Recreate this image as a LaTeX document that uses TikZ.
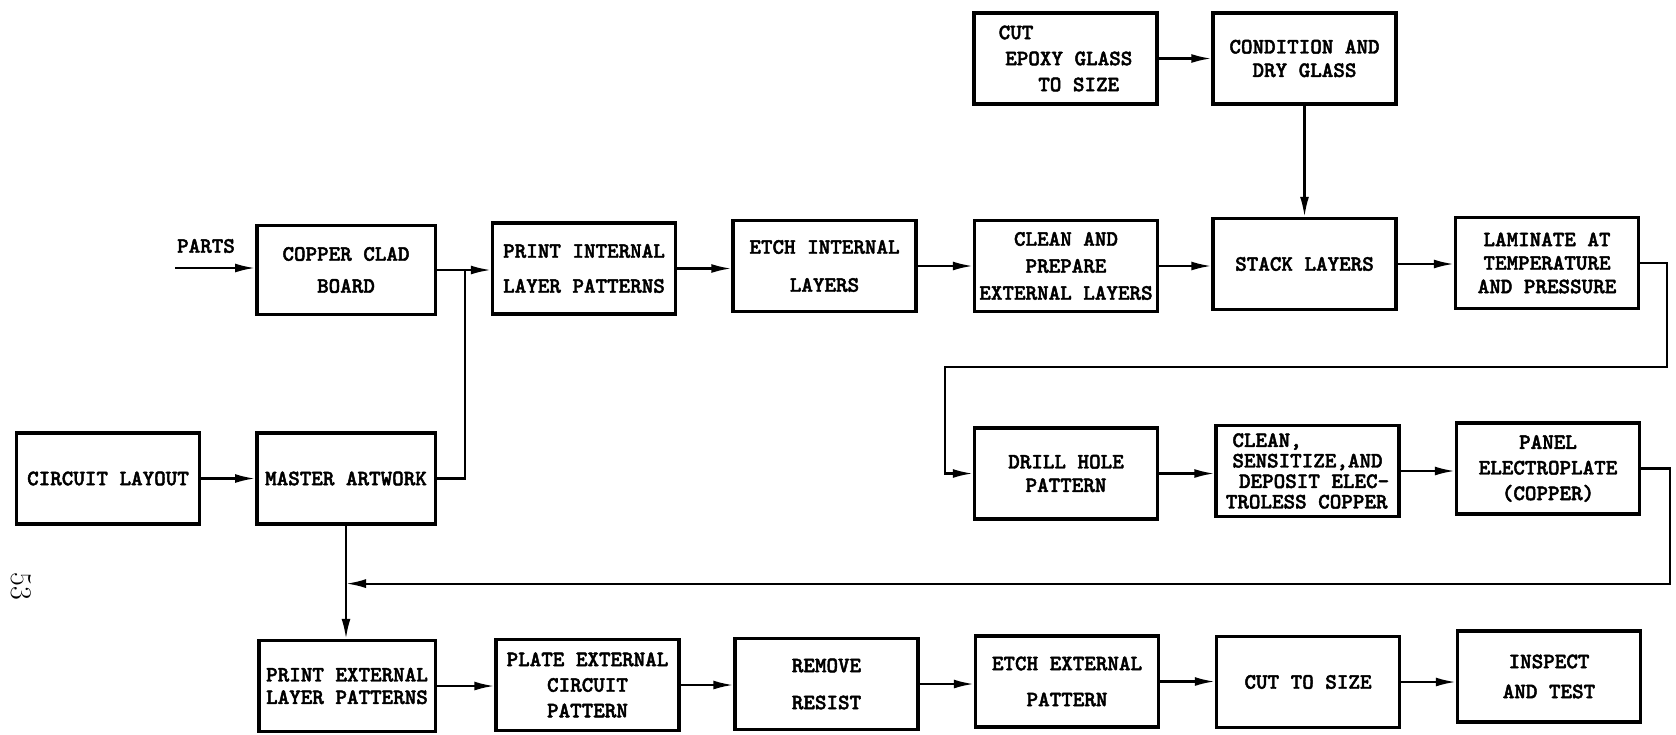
\documentclass[tikz,border=0pt]{standalone}
\usepackage{fontspec}
\newfontfamily\tw[Extension=.otf, FakeBold=2]{lmmonolt10-bold}
\usetikzlibrary{arrows.meta}
\tikzset{
  box/.style={draw, line width=3.5pt, minimum width=183pt, minimum height=91pt,
    inner sep=2pt, align=center, font=\tw\fontsize{22}{#1}\selectfont},
  box/.default=24,
  arr/.style={line width=2.2pt, -{Latex[length=20pt,width=9pt]}},
  ln/.style={line width=2.2pt},
  lbl/.style={font=\tw\fontsize{22}{24}\selectfont, inner sep=0pt},
}
\begin{document}
\begin{tikzpicture}[x=1pt,y=-1pt]
\useasboundingbox (0,0) rectangle (1676,734);
\fill[white] (0,0) rectangle (1676,734);

% row 1
\node[box=26, align=left] (cut) at (1065.5,58.5) {CUT\\\hspace*{0.3em}EPOXY GLASS\\\hspace*{1.8em}TO SIZE};
\node[box=23.5] (cond) at (1304.5,58.5) {CONDITION AND\\DRY GLASS};

% row 2
\node[box=32, minimum width=178.5pt, minimum height=89pt] (copper) at (346,270) {COPPER CLAD\\BOARD};
\node[box=35] (printint) at (584,268.5) {PRINT INTERNAL\\LAYER PATTERNS};
\node[box=38] (etchint) at (824.5,266) {ETCH INTERNAL\\LAYERS};
\node[box=27] (cleanprep) at (1066,266) {CLEAN AND\\PREPARE\\EXTERNAL LAYERS};
\node[box] (stack) at (1304.5,264) {STACK LAYERS};
\node[box=23.5] (laminate) at (1547,263) {LAMINATE AT\\TEMPERATURE\\AND PRESSURE};

% row 3
\node[box] (circuit) at (108,478.5) {CIRCUIT LAYOUT};
\node[box, minimum width=178.5pt] (master) at (346,478.5) {MASTER ARTWORK};
\node[box=23.5] (drill) at (1066,473.5) {DRILL HOLE\\PATTERN};
\node[box=20.5, align=left] (cleansens) at (1307.5,471) {\hspace*{0.3em}CLEAN,\\\hspace*{0.3em}SENSITIZE,AND\\\hspace*{0.6em}DEPOSIT ELEC-\\TROLESS COPPER};
\node[box=25.6] (panel) at (1548,468.5) {PANEL\\ELECTROPLATE\\(COPPER)};

% row 4
\node[box=22.5, minimum width=176.5pt] (printext) at (347,686) {PRINT EXTERNAL\\LAYER PATTERNS};
\node[box=25.6] (plateext) at (587.5,685) {PLATE EXTERNAL\\CIRCUIT\\PATTERN};
\node[box=37] (remove) at (826.5,684) {REMOVE\\RESIST};
\node[box=36] (etchext) at (1067,681.5) {ETCH EXTERNAL\\PATTERN};
\node[box] (cutsize) at (1308,682) {CUT TO SIZE};
\node[box=30] (inspect) at (1549,676.5) {INSPECT\\AND TEST};

% labels
\node[lbl] (parts) at (206,246) {PARTS};
\node[rotate=-90, font=\fontsize{30}{30}\selectfont, inner sep=0pt] (pg) at (21.4,586) {53};

% coordinates
\coordinate (partsin) at (175,268);
\coordinate (jn) at (465,270);
\coordinate (lr) at (1667,366.6);
\coordinate (ll) at (945,366.6);
\coordinate (fr) at (1670,583.6);
\coordinate (fl) at (346,583.6);

% connectors
\draw[arr] (cut.east) -- (cut.east -| cond.west);
\draw[arr] (cond.south) -- (cond.south |- stack.north);
\draw[arr] (partsin) -- (partsin -| copper.west);
\draw[arr] (copper.east) -- (copper.east -| printint.west);
\draw[arr] (printint.east) -- (printint.east -| etchint.west);
\draw[arr] (etchint.east) -- (etchint.east -| cleanprep.west);
\draw[arr] (cleanprep.east) -- (cleanprep.east -| stack.west);
\draw[arr] (stack.east) -- (stack.east -| laminate.west);
\draw[arr] (circuit.east) -- (circuit.east -| master.west);
\draw[ln] (master.east) -| (jn);
\draw[arr] (master.south) -- (master.south |- printext.north);
\draw[arr] (laminate.east) -| (lr) -- (ll) |- (drill.west);
\draw[arr] (drill.east) -- (drill.east -| cleansens.west);
\draw[arr] (cleansens.east) -- (cleansens.east -| panel.west);
\draw[arr] (panel.east) -| (fr) -- (fl);
\draw[arr] (printext.east) -- (printext.east -| plateext.west);
\draw[arr] (plateext.east) -- (plateext.east -| remove.west);
\draw[arr] (remove.east) -- (remove.east -| etchext.west);
\draw[arr] (etchext.east) -- (etchext.east -| cutsize.west);
\draw[arr] (cutsize.east) -- (cutsize.east -| inspect.west);
\end{tikzpicture}
\end{document}
